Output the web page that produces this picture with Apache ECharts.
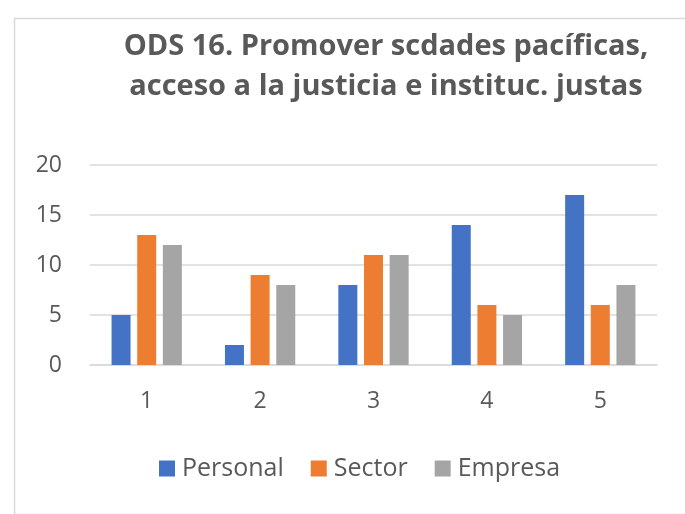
<!DOCTYPE html>
<html>
<head>
<meta charset="utf-8">
<script src="https://cdn.jsdelivr.net/npm/echarts@6/dist/echarts.min.js"></script>
<style>html,body{margin:0;padding:0;background:#fff}#c{width:685px;height:514px}</style>
</head>
<body>
<div id="c"></div>
<script>
const titleText = "ODS 16. Promover scdades pacíficas,\nacceso a la justicia e instituc. justas";
const categories = ["1", "2", "3", "4", "5"];
const seriesNames = ["Personal", "Sector", "Empresa"];
const personal = [5, 2, 8, 14, 17];
const sector = [13, 9, 11, 6, 6];
const empresa = [12, 8, 11, 5, 8];
const colors = ["#4472C4", "#ED7D31", "#A5A5A5"];
const FONT = "Open Sans";

const chart = echarts.init(document.getElementById('c'), null, {renderer: 'canvas'});
const values = [personal, sector, empresa];
chart.setOption({
  animation: false,
  backgroundColor: '#fff',
  graphic: [{
    type: 'rect', left: 12, top: 16,
    shape: {width: 700, height: 496},
    style: {fill: 'none', stroke: '#d9d9d9', lineWidth: 1.5},
    silent: true
  }],
  title: {
    text: titleText,
    left: 381, top: 22, textAlign: 'center',
    textStyle: {fontFamily: FONT, fontWeight: 'bold', fontSize: 29, color: '#595959', lineHeight: 40}
  },
  legend: {
    data: seriesNames,
    left: 154, top: 451,
    itemWidth: 16, itemHeight: 16, itemGap: 27,
    icon: 'rect',
    textStyle: {fontFamily: FONT, fontSize: 25, color: '#595959', padding: [0,0,0,2]}
  },
  grid: {left: 90, right: 28, top: 165, bottom: 149, containLabel: false},
  xAxis: {
    type: 'category', data: categories,
    axisLine: {lineStyle: {color: '#d9d9d9', width: 1.5}},
    axisTick: {show: false},
    axisLabel: {fontFamily: FONT, fontSize: 23, color: '#595959', margin: 25}
  },
  yAxis: {
    type: 'value', min: 0, max: 20, interval: 5,
    axisLine: {show: false}, axisTick: {show: false},
    splitLine: {lineStyle: {color: '#d9d9d9', width: 1.5}},
    axisLabel: {fontFamily: FONT, fontSize: 23, color: '#595959', margin: 28}
  },
  series: seriesNames.map((n, i) => ({
    name: n, type: 'bar', data: values[i],
    barWidth: 19, barGap: '35%',
    itemStyle: {color: colors[i]}
  }))
});
</script>
</body>
</html>
